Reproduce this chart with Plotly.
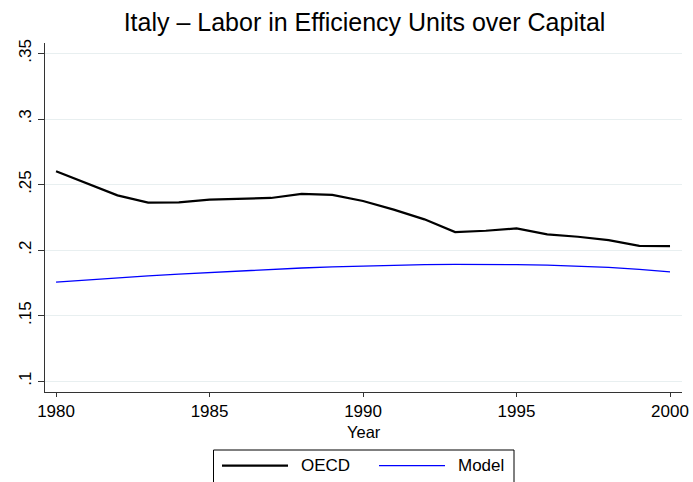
import plotly.graph_objects as go

years = list(range(1980, 2001))
oecd = [0.2602, 0.2508, 0.2418, 0.2362, 0.2365, 0.2385, 0.2390, 0.2398, 0.2429, 0.2421,
        0.2375, 0.2309, 0.2235, 0.2138, 0.2148, 0.2166, 0.2120, 0.2102, 0.2077, 0.2033, 0.2031]
model = [0.1756, 0.1773, 0.1789, 0.1803, 0.1817, 0.1830, 0.1843, 0.1854, 0.1864, 0.1872,
         0.1879, 0.1885, 0.1889, 0.1891, 0.1892, 0.1890, 0.1886, 0.1878, 0.1868, 0.1853, 0.1835]
x_ticks = [1980, 1985, 1990, 1995, 2000]
y_ticks = [0.1, 0.15, 0.2, 0.25, 0.3, 0.35]
y_labels = [".1", ".15", ".2", ".25", ".3", ".35"]
series_names = ["OECD", "Model"]
series_colors = ["black", "#0000ff"]
series_widths = [2.2, 1.3]

FONT = "Liberation Sans, Arial, sans-serif"

W, H = 693, 482
L, R, T, B = 45, 11, 43, 90
PW, PH = W - L - R, H - T - B


def px(xp):
    return (xp - L) / PW


def py(yp):
    return (H - B - yp) / PH


fig = go.Figure()
for name, vals, col, wd in zip(series_names, [oecd, model], series_colors, series_widths):
    fig.add_trace(go.Scatter(x=years, y=vals, mode="lines", name=name,
                             line=dict(color=col, width=wd), showlegend=False))

# manual legend (Stata style)
shapes = [dict(type="rect", xref="paper", yref="paper",
               x0=px(213.5), x1=px(514), y0=py(495), y1=py(450),
               line=dict(color="black", width=1), fillcolor="white", layer="above")]
line_x = [(222, 288), (379, 445)]
text_x = [299, 456]
annotations = [dict(text="Year", xref="paper", yref="paper", x=0.5, y=py(432),
                    xanchor="center", yanchor="middle", showarrow=False,
                    font=dict(size=16.5, family=FONT, color="black"))]
for (x0, x1), tx, name, col, wd in zip(line_x, text_x, series_names, series_colors, series_widths):
    shapes.append(dict(type="line", xref="paper", yref="paper",
                       x0=px(x0), x1=px(x1), y0=py(465.7), y1=py(465.7),
                       line=dict(color=col, width=wd), layer="above"))
    annotations.append(dict(text=name, xref="paper", yref="paper", x=px(tx), y=py(465.2),
                            xanchor="left", yanchor="middle", showarrow=False,
                            font=dict(size=17, family=FONT, color="black")))

fig.update_layout(
    width=W, height=H,
    margin=dict(l=L, r=R, t=T, b=B),
    paper_bgcolor="white", plot_bgcolor="white",
    font=dict(family=FONT, size=17, color="black"),
    title=dict(text="Italy \u2013 Labor in Efficiency Units over Capital",
               x=(364.5) / W, xanchor="center", y=1 - 22 / H, yanchor="middle",
               font=dict(size=25, family=FONT, color="black")),
    showlegend=False,
    shapes=shapes,
    annotations=annotations,
)
fig.update_xaxes(range=[1979.64, 2000.39], tickvals=x_ticks,
                 ticktext=[str(v) for v in x_ticks], automargin=False,
                 showgrid=False, zeroline=False, showline=True, linecolor="#333",
                 linewidth=1, ticks="outside", ticklen=4, tickcolor="#333",
                 tickfont=dict(size=17))
fig.update_yaxes(range=[0.0918, 0.358], tickvals=y_ticks, ticktext=y_labels,
                 tickangle=-90, showgrid=True, gridcolor="#e8eff0", gridwidth=1,
                 automargin=False,
                 zeroline=False, showline=True, linecolor="#333", linewidth=1,
                 ticks="outside", ticklen=6, tickcolor="#333",
                 tickfont=dict(size=17))

fig.write_html("out.html", config={"displayModeBar": False},
               post_script="document.body.style.margin='0';document.body.style.overflow='hidden';")
